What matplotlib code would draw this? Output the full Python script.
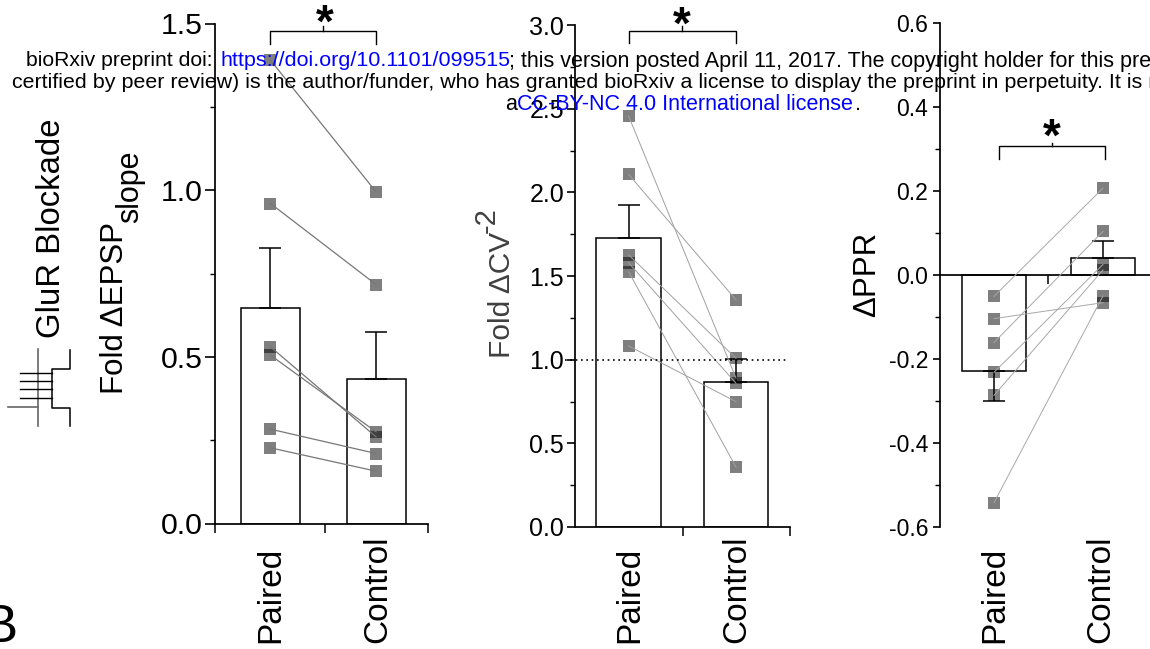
import matplotlib
matplotlib.use('Agg')
import matplotlib.pyplot as plt
from matplotlib.lines import Line2D

plt.rcParams['font.family'] = ['Liberation Sans', 'DejaVu Sans']

# panel 1 - GluR blockade, fold EPSP slope
slope_paired = [1.39, 0.96, 0.53, 0.505, 0.283, 0.227]
slope_control = [0.995, 0.717, 0.26, 0.275, 0.21, 0.157]
slope_means = [0.647, 0.435]
slope_errs = [0.181, 0.14]
slope_ticks = [0.0, 0.5, 1.0, 1.5]
slope_minor = [0.25, 0.75, 1.25]

# panel 2 - fold CV-2
cv_paired = [2.457, 2.108, 1.627, 1.58, 1.526, 1.082]
cv_control = [0.889, 1.357, 1.008, 0.859, 0.358, 0.749]
cv_means = [1.73, 0.868]
cv_errs = [0.196, 0.134]
cv_ticks = [0.0, 0.5, 1.0, 1.5, 2.0, 2.5, 3.0]
cv_minor = [0.25, 0.75, 1.25, 1.75, 2.25, 2.75]

# panel 3 - delta PPR
ppr_paired = [-0.051, -0.104, -0.161, -0.232, -0.287, -0.543]
ppr_control = [0.207, -0.066, 0.104, 0.025, 0.012, -0.05]
ppr_means = [-0.229, 0.04]
ppr_errs = [-0.072, 0.042]
ppr_ticks = [-0.6, -0.4, -0.2, 0.0, 0.2, 0.4, 0.6]
ppr_minor = [-0.5, -0.3, -0.1, 0.1, 0.3, 0.5]

groups = ['Paired', 'Control']

W, H = 1150, 649
fig = plt.figure(figsize=(W / 100, H / 100), dpi=100)


def px_axes(left, right, top, bottom):
    return fig.add_axes([left / W, 1 - bottom / H, (right - left) / W, (bottom - top) / H])


def px_text(x, y, s, size, color='black', rot=0):
    return fig.text(x / W, 1 - y / H, s, fontsize=size, color=color, rotation=rot,
                    rotation_mode='anchor', ha='left', va='baseline')


def px_line(xs, ys, color='black', lw=1.0):
    fig.add_artist(Line2D([x / W for x in xs], [1 - y / H for y in ys], color=color, lw=lw))


def panel(ax, paired, control, means, errs, ticks, minor, ylim, xpos, width, xtick_list,
          line_color, line_w, tick_size, tick_len, tick_pad):
    ax.bar(xpos, means, width=width, facecolor='white', edgecolor='black', linewidth=1.1, zorder=1)
    for x, m, e in zip(xpos, means, errs):
        ax.errorbar(x, m, yerr=[[0], [e]] if e > 0 else [[-e], [0]], color='black',
                    elinewidth=1.1, capsize=8, capthick=1.1, zorder=2)
    for a, b in zip(paired, control):
        ax.plot(xpos, [a, b], color=line_color, lw=line_w, zorder=4, clip_on=False)
    ax.plot([xpos[0]] * len(paired), paired, 's', color='black', alpha=0.5, ms=8.8, mew=0, zorder=3, clip_on=False)
    ax.plot([xpos[1]] * len(control), control, 's', color='black', alpha=0.5, ms=8.8, mew=0, zorder=3, clip_on=False)
    ax.set_xlim(0, 2)
    ax.set_ylim(*ylim)
    ax.set_yticks(ticks)
    ax.set_yticklabels(['%.1f' % t for t in ticks])
    ax.set_yticks(minor, minor=True)
    ax.set_xticks(xtick_list)
    ax.set_xticklabels([])
    ax.tick_params(axis='y', which='major', length=tick_len, width=1.2, labelsize=tick_size, pad=tick_pad)
    ax.tick_params(axis='y', which='minor', length=3.6, width=1.0)
    ax.tick_params(axis='x', length=6.5, width=1.1)
    ax.spines['top'].set_visible(False)
    ax.spines['right'].set_visible(False)
    ax.spines['left'].set_linewidth(1.25)
    ax.spines['bottom'].set_linewidth(1.25)
    ax.patch.set_alpha(0)


def bracket(ax, x0, x1, top, leg, stub, star_x, star_y):
    mid = (x0 + x1) / 2
    ax.plot([x0, x0, x1, x1], [leg, top, top, leg], color='black', lw=1.0, clip_on=False)
    ax.plot([mid, mid], [top, stub], color='black', lw=1.0, clip_on=False)
    ax.text(star_x, star_y, '*', fontsize=33, fontweight='bold', ha='center', va='center', clip_on=False)


ax1 = px_axes(215, 428, 23.5, 523.5)
panel(ax1, slope_paired, slope_control, slope_means, slope_errs, slope_ticks, slope_minor,
      (0, 1.5), [0.521, 1.512], 0.554, [0, 1.03, 2], '#777777', 0.9, 21.8, 7.2, 1.4)
bracket(ax1, 0.521, 1.512, 1.479, 1.44, 1.492, 1.035, 1.495)

ax2 = px_axes(575, 790, 25, 527)
panel(ax2, cv_paired, cv_control, cv_means, cv_errs, cv_ticks, cv_minor,
      (0, 3), [0.498, 1.498], 0.6, [1.0, 2], '#a0a0a0', 0.7, 18, 5.5, 2.4)
ax2.plot([-0.09, 1.97], [1, 1], color='black', lw=1.2, ls=(0, (1, 2.2)), clip_on=False, zorder=5)
bracket(ax2, 0.498, 1.498, 2.967, 2.893, 2.995, 0.998, 2.99)

ax3 = px_axes(940, 1155, 23.3, 526.7)
panel(ax3, ppr_paired, ppr_control, ppr_means, ppr_errs, ppr_ticks, ppr_minor,
      (-0.6, 0.6), [0.502, 1.516], 0.6, [1.005], '#a8a8a8', 0.7, 16.5, 5, 3.6)
ax3.spines['bottom'].set_position(('data', 0))
bracket(ax3, 0.549, 1.532, 0.307, 0.277, 0.315, 1.04, 0.325)

# group labels, all ending at the same height
for xs in [[279, 386], [638, 745], [1003, 1109.5]]:
    for x, g in zip(xs, groups):
        px_text(x, 643, g, 24, rot=90)

# y labels
px_text(59.5, 338, 'GluR Blockade', 23.7, rot=90)
px_text(123, 394.5, 'Fold \u0394EPSP', 22.5, rot=90)
px_text(138, 223, 'slope', 22, rot=90)
px_text(510, 358, 'Fold \u0394CV', 21.5, color='#404040', rot=90)
px_text(495, 233, '-2', 21, color='#404040', rot=90)
px_text(875, 317, '\u0394PPR', 22.5, rot=90)

# neuron sketch
px_line([38, 38], [349, 426], color='#666666', lw=1.2)
px_line([8, 38], [407, 407], color='#666666', lw=1.2)
for y in [373, 381, 389, 397.5]:
    px_line([20, 52], [y, y])
px_line([70, 70, 52, 52, 70, 70], [349.5, 368.5, 368.5, 407.7, 407.7, 426], lw=1.1)

# panel letter, cut by the page
fig.text(18 / W, 1 - 642 / H, 'B', fontsize=39, ha='right', va='baseline')

# preprint stamp
blue = '#0000ff'
px_text(26, 66.5, 'bioRxiv preprint doi: ', 15.2)
px_text(220, 66.5, 'https://doi.org/10.1101/099515', 15.45, color=blue)
px_text(509, 66.5, '; this version posted April 11, 2017. The copyright holder for this pre', 15.5)
px_text(12.5, 88, 'certified by peer review) is the author/funder, who has granted bioRxiv a license '
        'to display the preprint in perpetuity. It is m', 15.38)
px_text(505, 110, 'a', 15.5)
px_text(517, 110, 'CC-BY-NC 4.0 International license', 15.5, color=blue)
px_text(855, 110, '.', 15.5)

fig.savefig('out.png', dpi=100)
